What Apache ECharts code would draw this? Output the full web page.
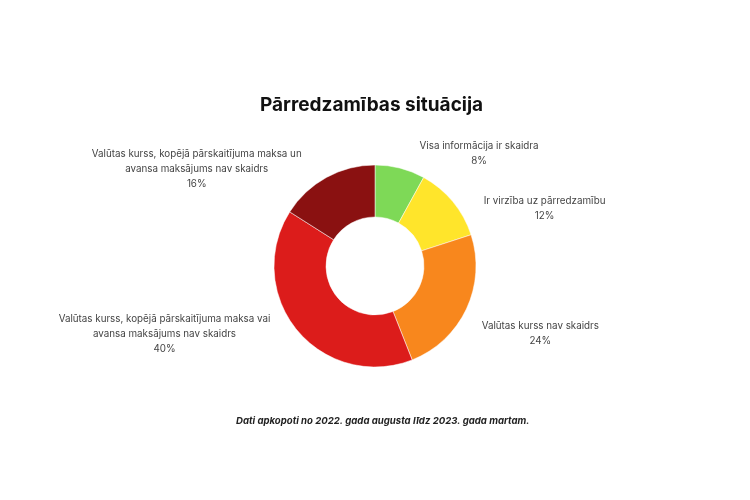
<!DOCTYPE html>
<html>
<head>
    <meta charset="utf-8">
    <title>Pārredzamības situācija</title>
    <script src="https://cdn.jsdelivr.net/npm/echarts@6/dist/echarts.min.js"></script>
    <style>
        html, body { margin: 0; padding: 0; background: #fff; }
        #chart { width: 750px; height: 500px; }
    </style>
</head>
<body>
<div id="chart"></div>

<script type="text/javascript">
    var categories = [
        'Visa informācija ir skaidra',
        'Ir virzība uz pārredzamību',
        'Valūtas kurss nav skaidrs',
        'Valūtas kurss, kopējā pārskaitījuma maksa vai\navansa maksājums nav skaidrs',
        'Valūtas kurss, kopējā pārskaitījuma maksa un\navansa maksājums nav skaidrs'
    ];
    var shares = [8, 12, 24, 40, 16];
    var colors = ['#7ed957', '#ffe52b', '#f8871d', '#dc1c1b', '#8a1111'];

    // small nudges so the labels sit where the original ones do
    var labelNudge = [[0, 3], [2, 18], [-16, 17], [2, -8], [-1, 7]];

    var myChart = echarts.init(document.getElementById('chart'));

    var pieData = categories.map(function (name, i) {
        return { name: name, value: shares[i], itemStyle: { color: colors[i] } };
    });

    var option = {
        backgroundColor: '#ffffff',
        animation: false,
        title: [
            {
                text: 'Pārredzamības situācija',
                left: 255,
                top: 91,
                textStyle: {
                    fontFamily: 'Inter',
                    fontSize: 19,
                    fontWeight: 'bold',
                    color: '#111'
                }
            },
            {
                text: 'Dati apkopoti no 2022. gada augusta līdz 2023. gada martam.',
                left: 231,
                top: 411,
                textStyle: {
                    fontFamily: 'Inter',
                    fontSize: 9.6,
                    fontStyle: 'italic',
                    fontWeight: 'bold',
                    color: '#222'
                }
            }
        ],
        series: [{
            type: 'pie',
            center: [375, 266],
            radius: [49, 101],
            startAngle: 90,
            clockwise: true,
            itemStyle: { borderColor: '#fff', borderWidth: 0.5 },
            label: {
                show: true,
                position: 'outside',
                formatter: '{b}\n{d}%',
                fontFamily: 'Inter',
                fontSize: 9.8,
                lineHeight: 15,
                color: '#444'
            },
            labelLine: { show: false, length: 18, length2: 10 },
            labelLayout: function (params) {
                var r = params.labelRect;
                var n = labelNudge[params.dataIndex];
                return {
                    x: r.x + r.width / 2 + n[0],
                    y: r.y + n[1],
                    align: 'center',
                    verticalAlign: 'top'
                };
            },
            data: pieData
        }]
    };

    myChart.setOption(option);
</script>
</body>
</html>
